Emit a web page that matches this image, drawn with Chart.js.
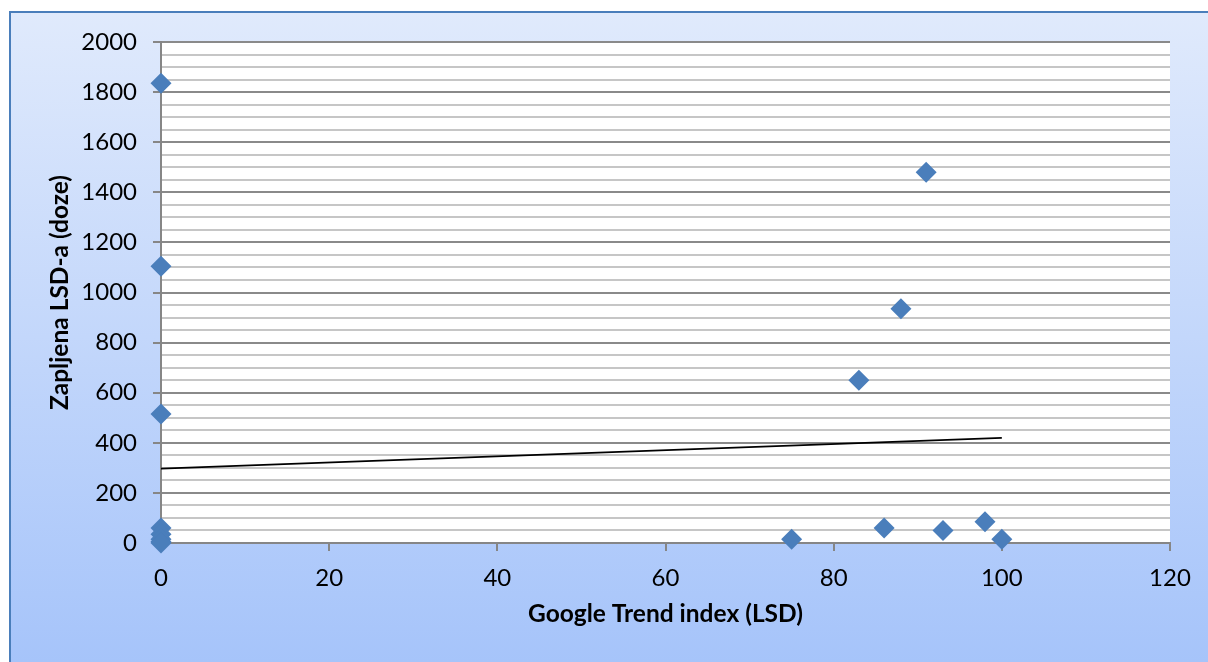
<!DOCTYPE html>
<html>
<head>
<meta charset="utf-8">
<script src="https://cdn.jsdelivr.net/npm/chart.js@4"></script>
<style>
  html, body { margin: 0; padding: 0; background: #fff; }
  #wrap { width: 1208px; height: 662px; }
</style>
</head>
<body>
<div id="wrap"><canvas id="lsdChart" width="1208" height="662"></canvas></div>
<script>
// Google Trend index (x) vs seized LSD doses (y)
const googleIndex = [0, 0, 0, 0, 0, 0, 0, 0, 75, 83, 86, 88, 91, 93, 98, 100];
const seizedDoses = [1835, 1105, 515, 60, 35, 15, 5, 0, 15, 650, 60, 935, 1480, 50, 85, 15];

// linear trendline end points
const trendX = [0, 100];
const trendY = [297, 420];

const xTicks = [0, 20, 40, 60, 80, 100, 120];
const yMajorStep = 200;

const FONT = 'Lato, "Open Sans", sans-serif';

// background frame + white plot area
const framePlugin = {
    id: 'frame',
    beforeDraw(chart) {
        const c = chart.ctx;
        const a = chart.chartArea;
        c.save();
        c.fillStyle = '#ffffff';
        c.fillRect(0, 0, chart.width, chart.height);
        const g = c.createLinearGradient(0, 11, 0, chart.height);
        g.addColorStop(0, '#e0eafc');
        g.addColorStop(1, '#a6c4fa');
        c.fillStyle = g;
        c.fillRect(9, 11, chart.width, chart.height);
        c.strokeStyle = '#4a7ebb';
        c.lineWidth = 2;
        c.beginPath();
        c.moveTo(10, chart.height + 2);
        c.lineTo(10, 12);
        c.lineTo(chart.width + 2, 12);
        c.stroke();
        c.fillStyle = '#ffffff';
        c.fillRect(a.left, a.top, a.right - a.left, a.bottom - a.top);
        c.restore();
    }
};

const pts = googleIndex.map((x, i) => ({ x: x, y: seizedDoses[i] }));
const trend = trendX.map((x, i) => ({ x: x, y: trendY[i] }));

new Chart(document.getElementById('lsdChart'), {
    type: 'scatter',
    data: {
        datasets: [{
            label: 'Trend',
            data: trend,
            showLine: true,
            borderColor: '#000000',
            borderWidth: 1.8,
            pointRadius: 0,
            order: 2
        }, {
            label: 'Zapljena',
            data: pts,
            clip: false,
            pointStyle: 'rectRot',
            pointRadius: 10.5,
            pointBackgroundColor: '#4a7ebb',
            pointBorderColor: '#4a7ebb',
            pointBorderWidth: 0,
            order: 1
        }]
    },
    options: {
        responsive: false,
        animation: false,
        layout: { padding: { left: 45, top: 42, right: 38, bottom: 33 } },
        plugins: { legend: { display: false }, tooltip: { enabled: false } },
        scales: {
            x: {
                type: 'linear',
                min: 0,
                max: 120,
                afterBuildTicks: s => { s.ticks = xTicks.map(v => ({ value: v })); },
                afterFit: s => { s.height = 86; },
                grid: { drawOnChartArea: false, drawTicks: true, tickLength: 8, color: '#868686', lineWidth: 2 },
                border: { color: '#868686', width: 2 },
                ticks: { color: '#000', font: { family: FONT, size: 24 }, padding: 13, maxRotation: 0 },
                title: {
                    display: true,
                    text: 'Google Trend index (LSD)',
                    color: '#000',
                    font: { family: FONT, size: 24.5, weight: 'bold' },
                    padding: { top: 0, bottom: 0 }
                }
            },
            y: {
                type: 'linear',
                min: 0,
                max: 2000,
                afterFit: s => { s.width = 116; },
                grid: {
                    drawTicks: true,
                    tickLength: 8,
                    color: c => c.tick.value % yMajorStep === 0 ? '#8a8a8a' : '#c6c6c6',
                    tickColor: c => c.tick.value % yMajorStep === 0 ? '#868686' : 'rgba(0,0,0,0)',
                    lineWidth: 2
                },
                border: { color: '#868686', width: 2 },
                ticks: {
                    stepSize: 50,
                    autoSkip: false,
                    color: '#000',
                    font: { family: FONT, size: 24 },
                    padding: 16,
                    callback: v => v % yMajorStep === 0 ? String(v) : ''
                },
                title: {
                    display: true,
                    text: 'Zapljena LSD-a (doze)',
                    color: '#000',
                    font: { family: FONT, size: 24.5, weight: 'bold' },
                    padding: { top: 0, bottom: 0 }
                }
            }
        }
    },
    plugins: [framePlugin]
});
</script>
</body>
</html>
